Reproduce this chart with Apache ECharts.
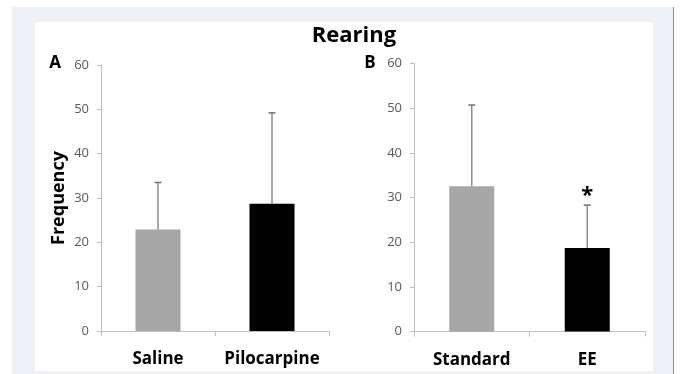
<!DOCTYPE html>
<html>
<head>
<meta charset="utf-8">
<script src="https://cdn.jsdelivr.net/npm/echarts@6/dist/echarts.min.js"></script>
<style>
html,body{margin:0;padding:0;background:#fff;}
#chart{width:680px;height:374px;}
</style>
</head>
<body>
<div id="chart"></div>
<script>
// ---- data ----
const titleText = 'Rearing';
const panelLabels = ['A', 'B'];
const yAxisName = 'Frequency';
const yMin = 0, yMax = 60, yInterval = 10;

const categoriesA = ['Saline', 'Pilocarpine'];
const meansA = [22.9, 28.7];
const errorsA = [10.6, 20.5];
const marksA = ['', ''];

const categoriesB = ['Standard', 'EE'];
const meansB = [32.5, 18.7];
const errorsB = [18.2, 9.6];
const marksB = ['', '*'];

const barColors = ['#a6a6a6', '#000000'];

// ---- chart ----
const FONT = 'Open Sans';
const chart = echarts.init(document.getElementById('chart'), null, {renderer: 'canvas'});

function barData(means) {
  return means.map((v, i) => ({value: v, itemStyle: {color: barColors[i]}}));
}
function errData(means, errs, marks) {
  return means.map((m, i) => [i, m, m + errs[i]]);
}
const markLists = [marksA, marksB];
function errRender(params, api) {
  const i = api.value(0);
  const base = api.coord([i, api.value(1)]);
  const top = api.coord([i, api.value(2)]);
  const mark = markLists[params.seriesIndex === 2 ? 0 : 1][params.dataIndex];
  const children = [
    {type: 'line', shape: {x1: base[0], y1: base[1], x2: top[0], y2: top[1]},
     style: {stroke: '#8c8c8c', lineWidth: 1.5}},
    {type: 'line', shape: {x1: top[0] - 3.5, y1: top[1], x2: top[0] + 3.5, y2: top[1]},
     style: {stroke: '#6f6f6f', lineWidth: 1.5}}
  ];
  if (mark) {
    children.push({type: 'text', x: top[0], y: top[1] - 9,
      style: {text: mark, fill: '#000', font: 'bold 22px "' + FONT + '"', align: 'center', verticalAlign: 'middle'}});
  }
  return {type: 'group', children: children};
}

function yAxisCfg(gridIndex, withName) {
  return {
    type: 'value', gridIndex: gridIndex, min: yMin, max: yMax, interval: yInterval,
    name: withName ? yAxisName : '', nameLocation: 'middle', nameGap: 33, nameRotate: 90,
    nameTextStyle: {fontFamily: FONT, fontWeight: 'bold', fontSize: 18, color: '#000'},
    axisLine: {show: true, lineStyle: {color: '#bfbfbf', width: 1}},
    axisTick: {show: true, length: 4, lineStyle: {color: '#bfbfbf'}},
    splitLine: {show: false},
    axisLabel: {fontFamily: FONT, fontSize: 13, color: '#595959', margin: 12}
  };
}
function xAxisCfg(gridIndex, cats) {
  return {
    type: 'category', gridIndex: gridIndex, data: cats,
    axisLine: {show: true, lineStyle: {color: '#bfbfbf', width: 1}},
    axisTick: {show: true, length: 5, lineStyle: {color: '#bfbfbf'}},
    axisLabel: {interval: 0, hideOverlap: false, fontFamily: FONT, fontSize: 17, fontWeight: 'bold', color: '#000', margin: 20}
  };
}

const option = {
  backgroundColor: '#ffffff',
  animation: false,
  graphic: [
    {type: 'rect', z: -10, shape: {x: 12, y: 7, width: 661, height: 367}, style: {fill: '#eff1f6'}},
    {type: 'rect', z: -9, shape: {x: 35, y: 22, width: 618, height: 349}, style: {fill: '#ffffff'}},
    {type: 'rect', z: -9, shape: {x: 673, y: 7, width: 1, height: 367}, style: {fill: '#8a8a8a'}}
  ],
  title: [
    {text: titleText, left: 349, top: 20, textAlign: 'center',
     textStyle: {fontFamily: FONT, fontWeight: 'bold', fontSize: 22, color: '#000'}},
    {text: panelLabels[0], left: 50, top: 50, textAlign: 'center',
     textStyle: {fontFamily: FONT, fontWeight: 'bold', fontSize: 17, color: '#000'}},
    {text: panelLabels[1], left: 365, top: 50, textAlign: 'center',
     textStyle: {fontFamily: FONT, fontWeight: 'bold', fontSize: 17, color: '#000'}}
  ],
  grid: [
    {left: 101, top: 65, width: 228, height: 266},
    {left: 414, top: 63.5, width: 231, height: 268}
  ],
  xAxis: [xAxisCfg(0, categoriesA), xAxisCfg(1, categoriesB)],
  yAxis: [yAxisCfg(0, true), yAxisCfg(1, false)],
  series: [
    {type: 'bar', xAxisIndex: 0, yAxisIndex: 0, barWidth: 45, data: barData(meansA)},
    {type: 'bar', xAxisIndex: 1, yAxisIndex: 1, barWidth: 45, data: barData(meansB)},
    {type: 'custom', xAxisIndex: 0, yAxisIndex: 0, renderItem: errRender, z: 5,
     encode: {x: 0, y: [1, 2]}, data: errData(meansA, errorsA, marksA)},
    {type: 'custom', xAxisIndex: 1, yAxisIndex: 1, renderItem: errRender, z: 5,
     encode: {x: 0, y: [1, 2]}, data: errData(meansB, errorsB, marksB)}
  ]
};
chart.setOption(option);
</script>
</body>
</html>
